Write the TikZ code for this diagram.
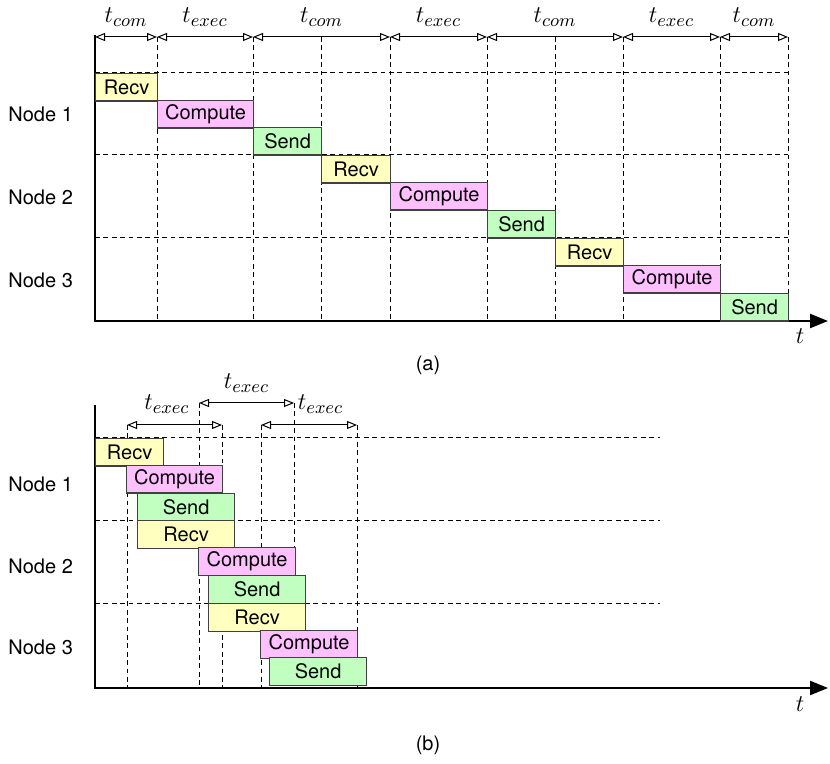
\documentclass[tikz,border=0pt]{standalone}
\usepackage{fontspec}
\setmainfont{TeX Gyre Heros}
\usetikzlibrary{arrows.meta}

\definecolor{recvcol}{HTML}{FFFFC0}
\definecolor{compcol}{HTML}{FFC0FF}
\definecolor{sendcol}{HTML}{C0FFC0}

\tikzset{
  task/.style={draw=black!75, line width=0.6pt, inner sep=0pt,
    minimum height=13.75pt, anchor=north west},
  recv/.style={task, fill=recvcol},
  comp/.style={task, fill=compcol},
  send/.style={task, fill=sendcol},
  grid/.style={dashed, dash pattern=on 2.4pt off 1.8pt, line width=0.5pt},
  axis/.style={line width=1.2pt, -{Triangle[length=9pt,width=7pt]}},
  dim/.style={line width=0.5pt,
    {Triangle[open,length=5pt,width=4pt]}-{Triangle[open,length=5pt,width=4pt]}},
  dimlabel/.style={above=3pt, inner sep=2pt, font=\fontsize{13}{15}\selectfont},
  rowlabel/.style={anchor=west, inner sep=0pt},
}

\begin{document}
\begin{tikzpicture}[x=0.5pt, y=-0.5pt, font=\fontsize{10}{12}\selectfont]
\useasboundingbox (0,0) rectangle (830,764);

% (a) sequential
\coordinate (a0) at (95,37);
\foreach \x [count=\i] in {157,253,321,390,487,555,623,720,788}{
  \coordinate (a\i) at (\x,37);
  \draw[grid] (a\i) -- (\x,321);
}
\foreach \y in {73,155,238}
  \draw[grid] (95,\y) -- (788,\y);

\coordinate (ya) at (95,35);
\coordinate (oa) at (95,321);
\coordinate (xa) at (828,321);
\draw[axis] (ya) -- (oa) -- (xa);
\node[font=\fontsize{12}{14}\selectfont] (ta) at (800,336) {$t$};

\foreach \s/\e/\lab in {0/1/com,1/2/exec,2/4/com,4/5/exec,5/7/com,7/8/exec,8/9/com}
  \draw[dim] (a\s) -- node[dimlabel] (la\s) {$t_{\lab}$} (a\e);

\foreach \n/\lab/\kind/\x/\y/\w in {r1/Recv/recv/95/73/62, c1/Compute/comp/157/100/96,
    s1/Send/send/253/127/68, r2/Recv/recv/321/155/69, c2/Compute/comp/390/182/97,
    s2/Send/send/487/210/68, r3/Recv/recv/555/238/68, c3/Compute/comp/623/265/97,
    s3/Send/send/720/293/68}
  \node[\kind, minimum width=\w*0.5pt] (a\n) at (\x,\y) {\lab};

\foreach \i/\y in {1/114,2/197,3/280}
  \node[rowlabel] (na\i) at (8,\y) {Node \i};
\node (capa) at (428,365) {(a)};

% (b) pipelined
\foreach \x/\y [count=\i] in {127/425,199/403,222/425,261/425,294/403,357/425}{
  \coordinate (b\i) at (\x,\y);
  \draw[grid] (b\i) -- (\x,688);
}
\foreach \y in {438,520,603}
  \draw[grid] (95,\y) -- (660,\y);

\coordinate (yb) at (95,405);
\coordinate (ob) at (95,688);
\coordinate (xb) at (828,688);
\draw[axis] (yb) -- (ob) -- (xb);
\node[font=\fontsize{12}{14}\selectfont] (tb) at (800,704) {$t$};

\draw[dim] (b1) -- node[dimlabel, above=0.5pt, pos=0.42] (lb1) {$t_{exec}$} (b3);
\draw[dim] (b2) -- node[dimlabel] (lb2) {$t_{exec}$} (b5);
\draw[dim] (b4) -- node[dimlabel, above=0.5pt, pos=0.62] (lb4) {$t_{exec}$} (b6);

\foreach \n/\lab/\kind/\x/\y/\w in {r1/Recv/recv/95/438/68, c1/Compute/comp/126/465/96,
    s1/Send/send/137/493/97, r2/Recv/recv/137/520/97, c2/Compute/comp/198/547/97,
    s2/Send/send/208/575/97, r3/Recv/recv/208/603/97, c3/Compute/comp/260/630/97,
    s3/Send/send/269/657/97}
  \node[\kind, minimum width=\w*0.5pt] (b\n) at (\x,\y) {\lab};

\foreach \i/\y in {1/484,2/566,3/647}
  \node[rowlabel] (nb\i) at (8,\y) {Node \i};
\node (capb) at (428,745) {(b)};

\end{tikzpicture}
\end{document}
